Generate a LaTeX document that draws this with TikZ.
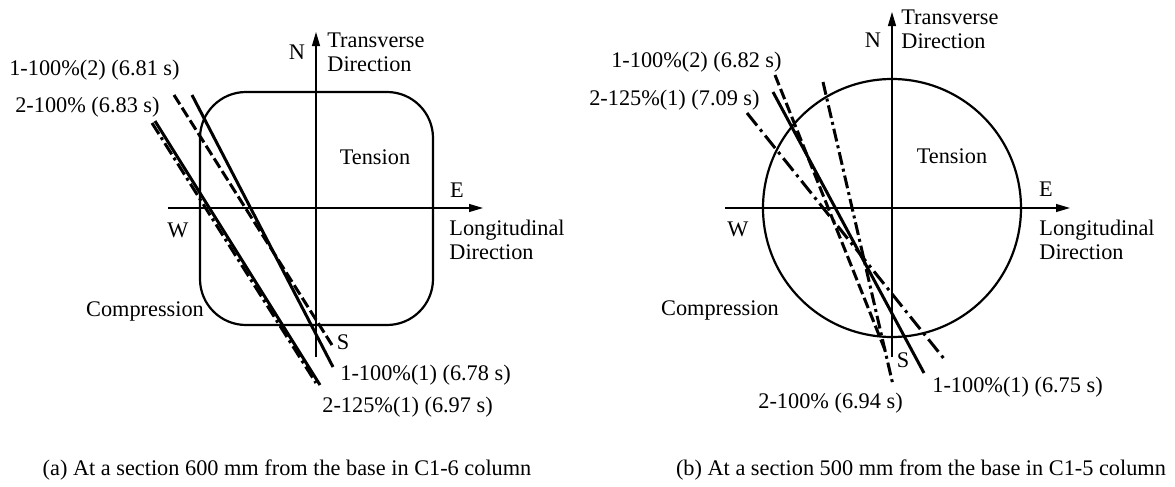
\documentclass[tikz,border=0pt]{standalone}
\usepackage{fontspec}
\setmainfont{Liberation Serif}
\usetikzlibrary{arrows.meta}
\begin{document}
\begin{tikzpicture}[x=0.5pt,y=-0.5pt,
  lbl/.style={font=\fontsize{11.15}{12}\selectfont, inner sep=0pt, align=left},
  axisline/.style={line width=0.6pt, -{Triangle[length=7pt,width=4pt]}},
  plainaxis/.style={line width=0.6pt},
  outline/.style={line width=1.1pt},
  solidline/.style={line width=1.5pt},
  dashline/.style={line width=1.5pt, dash pattern=on 5.5pt off 2pt},
  dashdotline/.style={line width=1.5pt, dash pattern=on 6.5pt off 2pt on 1.5pt off 2pt},
  longdashdot/.style={line width=1.5pt, dash pattern=on 8pt off 2.5pt on 1.5pt off 2.5pt}]
\useasboundingbox (0,0) rectangle (1175,487);

% ---------------- panel (a) ----------------
\coordinate (aN) at (316,32);
\coordinate (aSend) at (316,357);
\coordinate (aW) at (168,208);
\coordinate (aE) at (483,208);
\draw[axisline] (aSend) -- (aN);
\draw[axisline] (aW) -- (aE);
\draw[outline, rounded corners=23pt] (200,92) rectangle (433,325);

\coordinate (a1s) at (192,95);  \coordinate (a1e) at (333,367);
\coordinate (a2s) at (174,95);  \coordinate (a2e) at (332,345);
\coordinate (a3s) at (155,121); \coordinate (a3e) at (320,385);
\coordinate (a4s) at (152,123); \coordinate (a4e) at (316,383);
\draw[solidline] (a1s) -- (a1e);
\draw[dashline] (a2s) -- (a2e);
\draw[solidline] (a3s) -- (a3e);
\draw[dashdotline] (a4s) -- (a4e);

\node[lbl] (aNl) at (297,52) {N};
\node[lbl, anchor=west] (aTr) at (327,52) {Transverse\\Direction};
\node[lbl] (aTen) at (375,157) {Tension};
\node[lbl] (aEl) at (457,190) {E};
\node[lbl, anchor=west] (aLo) at (449,240) {Longitudinal\\Direction};
\node[lbl] (aWl) at (178,230) {W};
\node[lbl] (aCo) at (145,311) {Compression};
\node[lbl] (aSl) at (343,342) {S};
\node[lbl, anchor=east] (aL1) at (180,70) {1-100\%(2) (6.81 s)};
\node[lbl, anchor=east] (aL2) at (160,107) {2-100\% (6.83 s)};
\node[lbl, anchor=west] (aL3) at (340,375) {1-100\%(1) (6.78 s)};
\node[lbl, anchor=west] (aL4) at (322,407) {2-125\%(1) (6.97 s)};
\node[lbl] (capa) at (287,470) {(a) At a section 600 mm from the base in C1-6 column};

% ---------------- panel (b) ----------------
\coordinate (bN) at (892,12);
\coordinate (bSend) at (892,357);
\coordinate (bW) at (725,208);
\coordinate (bE) at (1070,208);
\draw[axisline] (bSend) -- (bN);
\draw[axisline] (bW) -- (bE);
\draw[outline] (892,208) circle[radius=129];

\coordinate (b1s) at (775,75);  \coordinate (b1e) at (885,350);
\coordinate (b2s) at (773,92);  \coordinate (b2e) at (924,373);
\coordinate (b3s) at (747,113); \coordinate (b3e) at (945,360);
\coordinate (b4s) at (823,82);  \coordinate (b4e) at (893,385);
\draw[dashline] (b1s) -- (b1e);
\draw[solidline] (b2s) -- (b2e);
\draw[longdashdot] (b3s) -- (b3e);
\draw[dashdotline] (b4s) -- (b4e);

\node[lbl] (bNl) at (873,40) {N};
\node[lbl, anchor=west] (bTr) at (901,29) {Transverse\\Direction};
\node[lbl] (bTen) at (952,156) {Tension};
\node[lbl] (bEl) at (1046,189) {E};
\node[lbl, anchor=west] (bLo) at (1039,240) {Longitudinal\\Direction};
\node[lbl] (bWl) at (738,229) {W};
\node[lbl] (bCo) at (720,310) {Compression};
\node[lbl] (bSl) at (903,360) {S};
\node[lbl, anchor=east] (bL1) at (782,62) {1-100\%(2) (6.82 s)};
\node[lbl, anchor=east] (bL2) at (760,100) {2-125\%(1) (7.09 s)};
\node[lbl, anchor=west] (bL3) at (932,387) {1-100\%(1) (6.75 s)};
\node[lbl, anchor=west] (bL4) at (758,403) {2-100\% (6.94 s)};
\node[lbl] (capb) at (921,470) {(b) At a section 500 mm from the base in C1-5 column};
\end{tikzpicture}
\end{document}
